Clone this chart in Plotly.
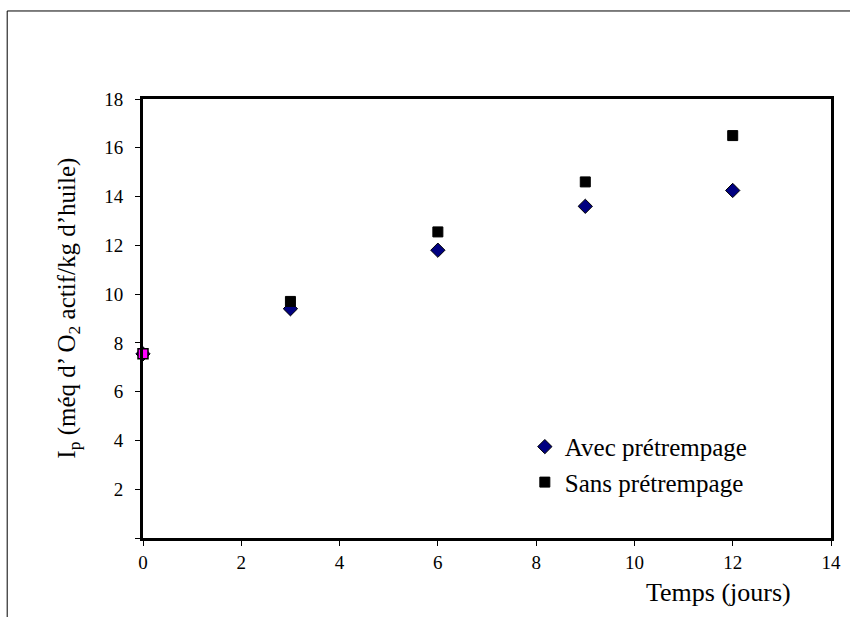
import plotly.graph_objects as go

jours = [0, 3, 6, 9, 12]
avec_pretrempage = [7.55, 9.4, 11.8, 13.6, 14.25]
sans_pretrempage = [7.55, 9.7, 12.55, 14.6, 16.5]
x_ticks = [0, 2, 4, 6, 8, 10, 12, 14]
y_ticks = [0, 2, 4, 6, 8, 10, 12, 14, 16, 18]
y_ticktext = ["", "2", "4", "6", "8", "10", "12", "14", "16", "18"]

FONT = "Liberation Serif"

fig = go.Figure()
fig.add_trace(go.Scatter(
    x=jours, y=avec_pretrempage, mode="markers", name="Avec prétrempage",
    marker=dict(symbol="diamond", size=11, color="#000080",
                line=dict(color="black", width=1)),
    cliponaxis=False,
))
fig.add_trace(go.Scatter(
    x=jours[1:], y=sans_pretrempage[1:], mode="markers", name="Sans prétrempage",
    marker=dict(symbol="square", size=10, color="black",
                line=dict(color="black", width=1)),
    cliponaxis=False,
))
fig.add_trace(go.Scatter(
    x=jours[:1], y=sans_pretrempage[:1], mode="markers", showlegend=False,
    marker=dict(symbol="square", size=10, color="#FF00FF",
                line=dict(color="black", width=1.5)),
    cliponaxis=False,
))

fig.update_layout(
    width=850, height=617,
    margin=dict(l=143, r=9, t=99, b=79),
    paper_bgcolor="white", plot_bgcolor="white",
    font=dict(family=FONT, color="black", size=19),
    showlegend=True,
    legend=dict(x=0.555, y=0.26, xanchor="left", yanchor="top",
                bgcolor="rgba(0,0,0,0)", borderwidth=0,
                font=dict(family=FONT, size=25, color="black"),
                tracegroupgap=0),
    xaxis=dict(range=[0, 14], tickvals=x_ticks, showgrid=False, zeroline=False,
               showline=True, linewidth=3, linecolor="black", mirror=True,
               ticks="outside", ticklen=5, tickwidth=1, tickcolor="black",
               ticklabelstandoff=0,
               tickfont=dict(family=FONT, size=19)),
    yaxis=dict(range=[0, 18], tickvals=y_ticks, ticktext=y_ticktext,
               showgrid=False, zeroline=False,
               showline=True, linewidth=3, linecolor="black", mirror=True,
               ticks="outside", ticklen=5, tickwidth=1, tickcolor="black",
               ticklabelstandoff=8,
               tickfont=dict(family=FONT, size=19)),
    annotations=[
        dict(text="Temps (jours)", xref="paper", yref="paper",
             x=0.836, y=-0.125, xanchor="center", yanchor="middle",
             showarrow=False, font=dict(family=FONT, size=26)),
        dict(text="I<sub>p</sub> (méq d’ O<sub>2</sub> actif/kg d’huile)",
             xref="paper", yref="paper", x=-0.108, y=0.524,
             xanchor="center", yanchor="middle", textangle=-90,
             showarrow=False, font=dict(family=FONT, size=25)),
    ],
    shapes=[
        dict(type="rect", xref="paper", yref="paper",
             x0=-0.1974, y0=-0.25, x1=1.05, y1=1.2005,
             line=dict(color="black", width=1), layer="below"),
    ],
)

fig.write_html("out.html")
